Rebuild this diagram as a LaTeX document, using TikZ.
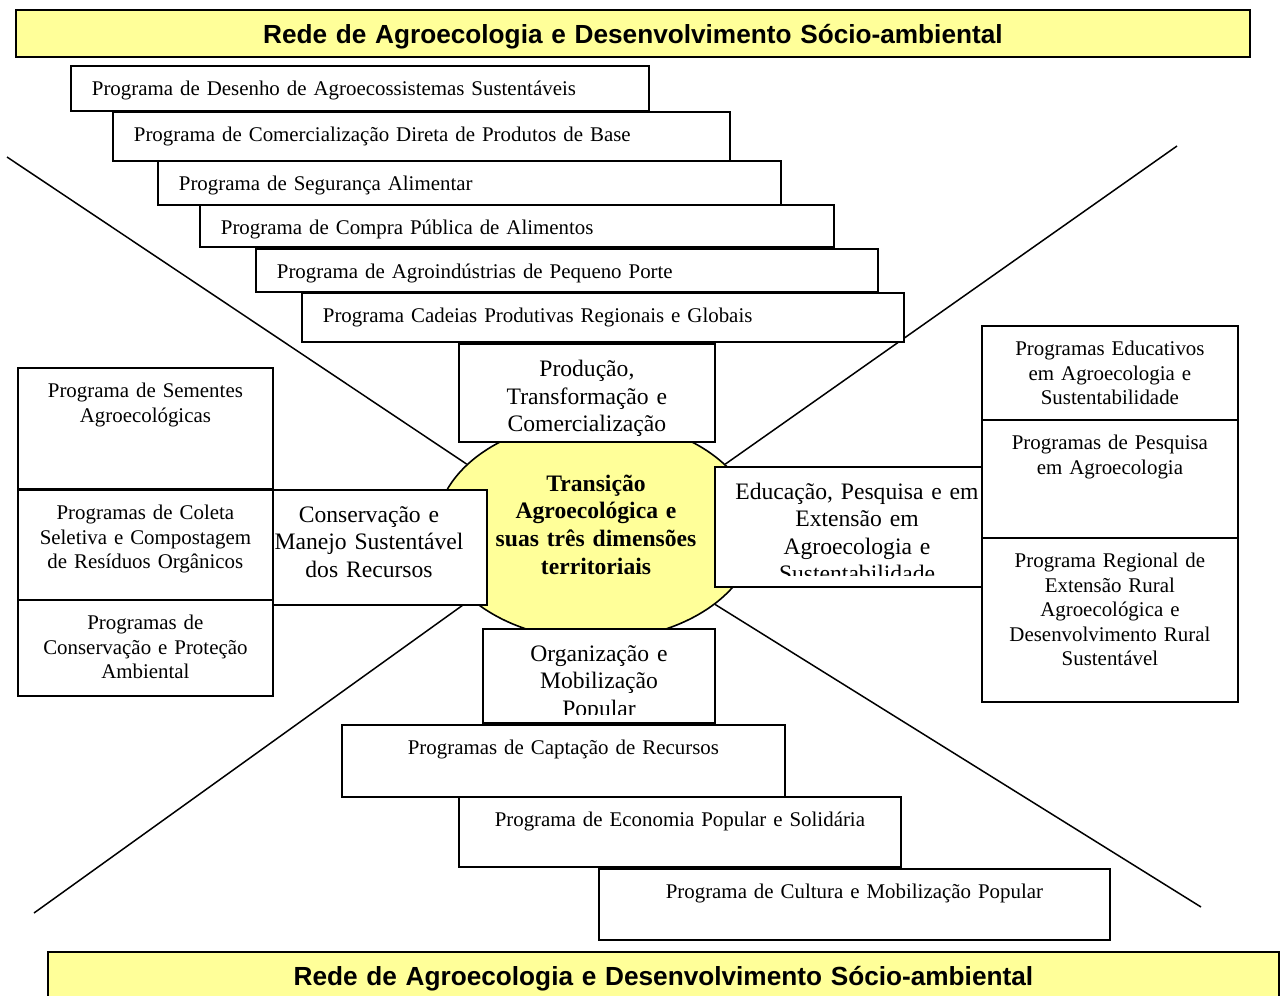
\documentclass[tikz,border=0pt]{standalone}
\usepackage{fontspec}
\setmainfont{Liberation Serif}
\newfontfamily\bannerfont{Liberation Sans}
\usepackage{xcolor}
\definecolor{redeyellow}{RGB}{255,255,153}
\usetikzlibrary{shapes.geometric,backgrounds}
\tikzset{
  prog box/.style 2 args={draw, fill=white, line width=0.9pt, anchor=north west, inner sep=0pt,
    text width=#1*0.5pt, align=center, font=\fontsize{10.45}{12.2}\selectfont,
    text height=15pt, text depth=#2*0.5pt-15pt},
  prog line/.style 2 args={prog box={#1}{#2}, align=left, inner xsep=10.5pt, text width=#1*0.5pt-21pt},
  area box/.style 2 args={draw, fill=white, line width=0.9pt, anchor=north west, inner sep=0pt,
    text width=#1*0.5pt, align=center, font=\fontsize{11.8}{13.75}\selectfont,
    text height=16.5pt, text depth=#2*0.5pt-16.5pt},
  area text/.style={anchor=base, inner sep=0pt, text width=130pt, align=center,
    font=\fontsize{11.8}{13.75}\selectfont},
  rede banner/.style 2 args={draw, fill=redeyellow, line width=0.9pt, anchor=north west, inner sep=0pt,
    text width=#1*0.5pt, align=center, font=\bannerfont\bfseries\fontsize{13.1}{15}\selectfont,
    text height=17pt, text depth=#2*0.5pt-17pt},
  axis line/.style={line width=0.75pt},
}

\begin{document}
\begin{tikzpicture}[x=0.5pt, y=-0.5pt]
  \useasboundingbox (0,0) rectangle (1280,996);

  % centre
  \node[ellipse, draw, fill=redeyellow, line width=0.8pt, minimum width=160pt, minimum height=110pt,
        inner sep=0pt, text width=110pt, align=center, font=\bfseries\fontsize{11.8}{13.85}\selectfont,
        text height=5pt, text depth=44pt] (transicao) at (596,530)
        {Transição\\Agroecológica e\\suas três dimensões\\territoriais};

  % banners
  \node[rede banner={1234}{47}] (redeTop) at (15,9) {Rede de Agroecologia e Desenvolvimento Sócio-ambiental};
  \node[rede banner={1231}{50}] (redeBottom) at (47,951) {Rede de Agroecologia e Desenvolvimento Sócio-ambiental};

  % production programmes
  \node[prog line={578}{45}] (desenho) at (70,65) {Programa de Desenho de Agroecossistemas Sustentáveis};
  \node[prog line={617}{49}] (comerc) at (112,111) {Programa de Comercialização Direta de Produtos de Base};
  \node[prog line={623}{44}] (seguranca) at (157,160) {Programa de Segurança Alimentar};
  \node[prog line={634}{42}] (compra) at (199,204) {Programa de Compra Pública de Alimentos};
  \node[prog line={622}{43}] (agroind) at (255,248) {Programa de Agroindústrias de Pequeno Porte};
  \node[prog line={602}{49}] (cadeias) at (301,292) {Programa Cadeias Produtivas Regionais e Globais};

  % dimensions
  \node[area box={256}{98}] (producao) at (458,343) {Produção,\\Transformação e\\Comercialização};
  \node[area box={214}{115}] (conserv) at (272,489) {};
  \node[area text] (conservTxt) at (369,522) {Conservação e\\Manejo Sustentável\\dos Recursos};
  \node[area box={267}{120}] (educacao) at (714,466) {};
  \begin{scope}
    \clip (educacao.north west) rectangle (981,575);
    \node[area text] (educacaoTxt) at (857,499) {Educação, Pesquisa e em\\Extensão em\\Agroecologia e\\Sustentabilidade};
  \end{scope}
  \node[area box={232}{94}] (organiz) at (482,628) {};
  \begin{scope}
    \clip (organiz.north west) rectangle (714,714);
    \node[area text] (organizTxt) at (599,661) {Organização e\\Mobilização\\Popular};
  \end{scope}

  % left programmes
  \node[prog box={255}{121}] (sementes) at (17,367) {Programa de Sementes\\Agroecológicas};
  \node[prog box={255}{110}] (coleta) at (17,489) {Programas de Coleta\\Seletiva e Compostagem\\de Resíduos Orgânicos};
  \node[prog box={255}{96}] (protecao) at (17,599) {Programas de\\Conservação e Proteção\\Ambiental};

  % right programmes
  \node[prog box={256}{94}] (educativos) at (981,325) {Programas Educativos\\em Agroecologia e\\Sustentabilidade};
  \node[prog box={256}{118}] (pesquisa) at (981,419) {Programas de Pesquisa\\em Agroecologia};
  \node[prog box={256}{164}] (regional) at (981,537) {Programa Regional de\\Extensão Rural\\Agroecológica e\\Desenvolvimento Rural\\Sustentável};

  % popular organisation programmes
  \node[prog box={443}{72}] (captacao) at (341,724) {Programas de Captação de Recursos};
  \node[prog box={442}{70}] (economia) at (458,796) {Programa de Economia Popular e Solidária};
  \node[prog box={511}{71}] (cultura) at (598,868) {Programa de Cultura e Mobilização Popular};

  % the four axes
  \coordinate (ulEnd) at (7,157);
  \coordinate (urEnd) at (1177,146);
  \coordinate (llEnd) at (34,913);
  \coordinate (lrEnd) at (1201,907);
  \begin{scope}[on background layer]
    \draw[axis line] (ulEnd) -- (transicao.153);
    \draw[axis line] (urEnd) -- (transicao.27);
    \draw[axis line] (llEnd) -- (transicao.209);
    \draw[axis line] (lrEnd) -- (transicao.328);
  \end{scope}
\end{tikzpicture}
\end{document}
